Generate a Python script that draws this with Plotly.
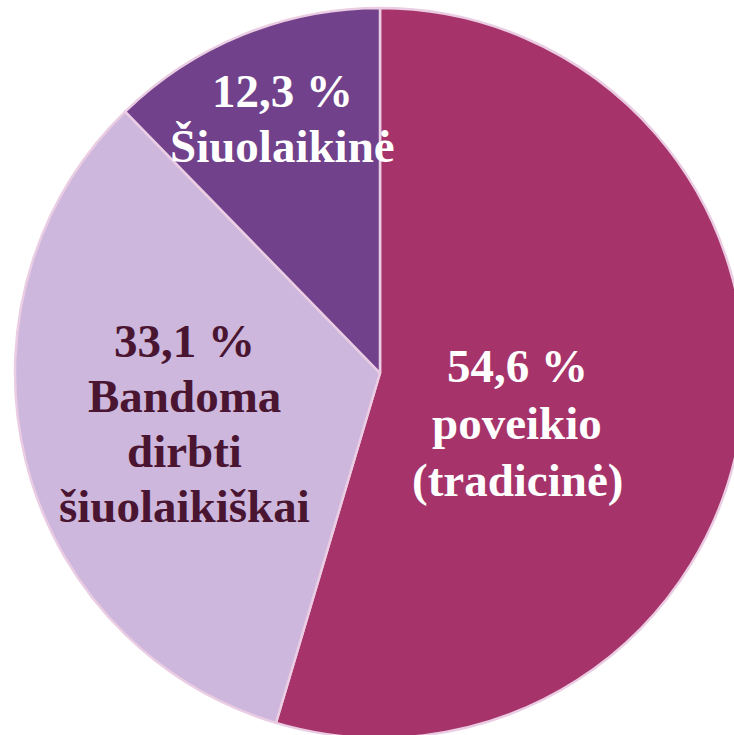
import plotly.graph_objects as go

categories = ["poveikio (tradicinė)", "Bandoma dirbti šiuolaikiškai", "Šiuolaikinė"]
values = [54.6, 33.1, 12.3]
value_labels = ["54,6 %", "33,1 %", "12,3 %"]
label_lines = [["poveikio", "(tradicinė)"], ["Bandoma", "dirbti", "šiuolaikiškai"], ["Šiuolaikinė"]]
colors = ["#A6346B", "#CDB7DD", "#71418C"]
text_colors = ["#FFFFFF", "#4A1530", "#FFFFFF"]

W, H = 750, 745
cx, cy, r = 380, 373, 365
FS = 47

fig = go.Figure(go.Pie(
    labels=categories,
    values=values,
    sort=False,
    direction="clockwise",
    rotation=0,
    marker=dict(colors=colors, line=dict(color="#EBCDE3", width=2.5)),
    textinfo="none",
    hoverinfo="label+percent",
    domain=dict(x=[(cx - r) / W, (cx + r) / W], y=[1 - (cy + r) / H, 1 - (cy - r) / H]),
    showlegend=False,
))

# label layout: x centre, first baseline, line spacing (pixels)
label_layout = [(517, 383, 57), (184, 358, 55), (282, 108, 55)]
for i in range(len(categories)):
    lines = [value_labels[i]] + label_lines[i]
    px, base0, step = label_layout[i]
    for j, s in enumerate(lines):
        py = base0 + j * step - 0.37 * FS
        fig.add_annotation(
            x=px / W, y=1 - py / H, xref="paper", yref="paper",
            text="<b>" + s + "</b>", showarrow=False, xanchor="center", yanchor="middle",
            font=dict(family="Liberation Serif", size=FS, color=text_colors[i]),
        )

fig.update_layout(
    width=W, height=H,
    margin=dict(l=0, r=0, t=0, b=0),
    paper_bgcolor="white", plot_bgcolor="white",
)

fig.write_html(
    "out.html",
    config={"displayModeBar": False},
    post_script="document.body.style.margin='0';document.body.style.overflow='hidden';document.documentElement.style.overflow='hidden';",
)
